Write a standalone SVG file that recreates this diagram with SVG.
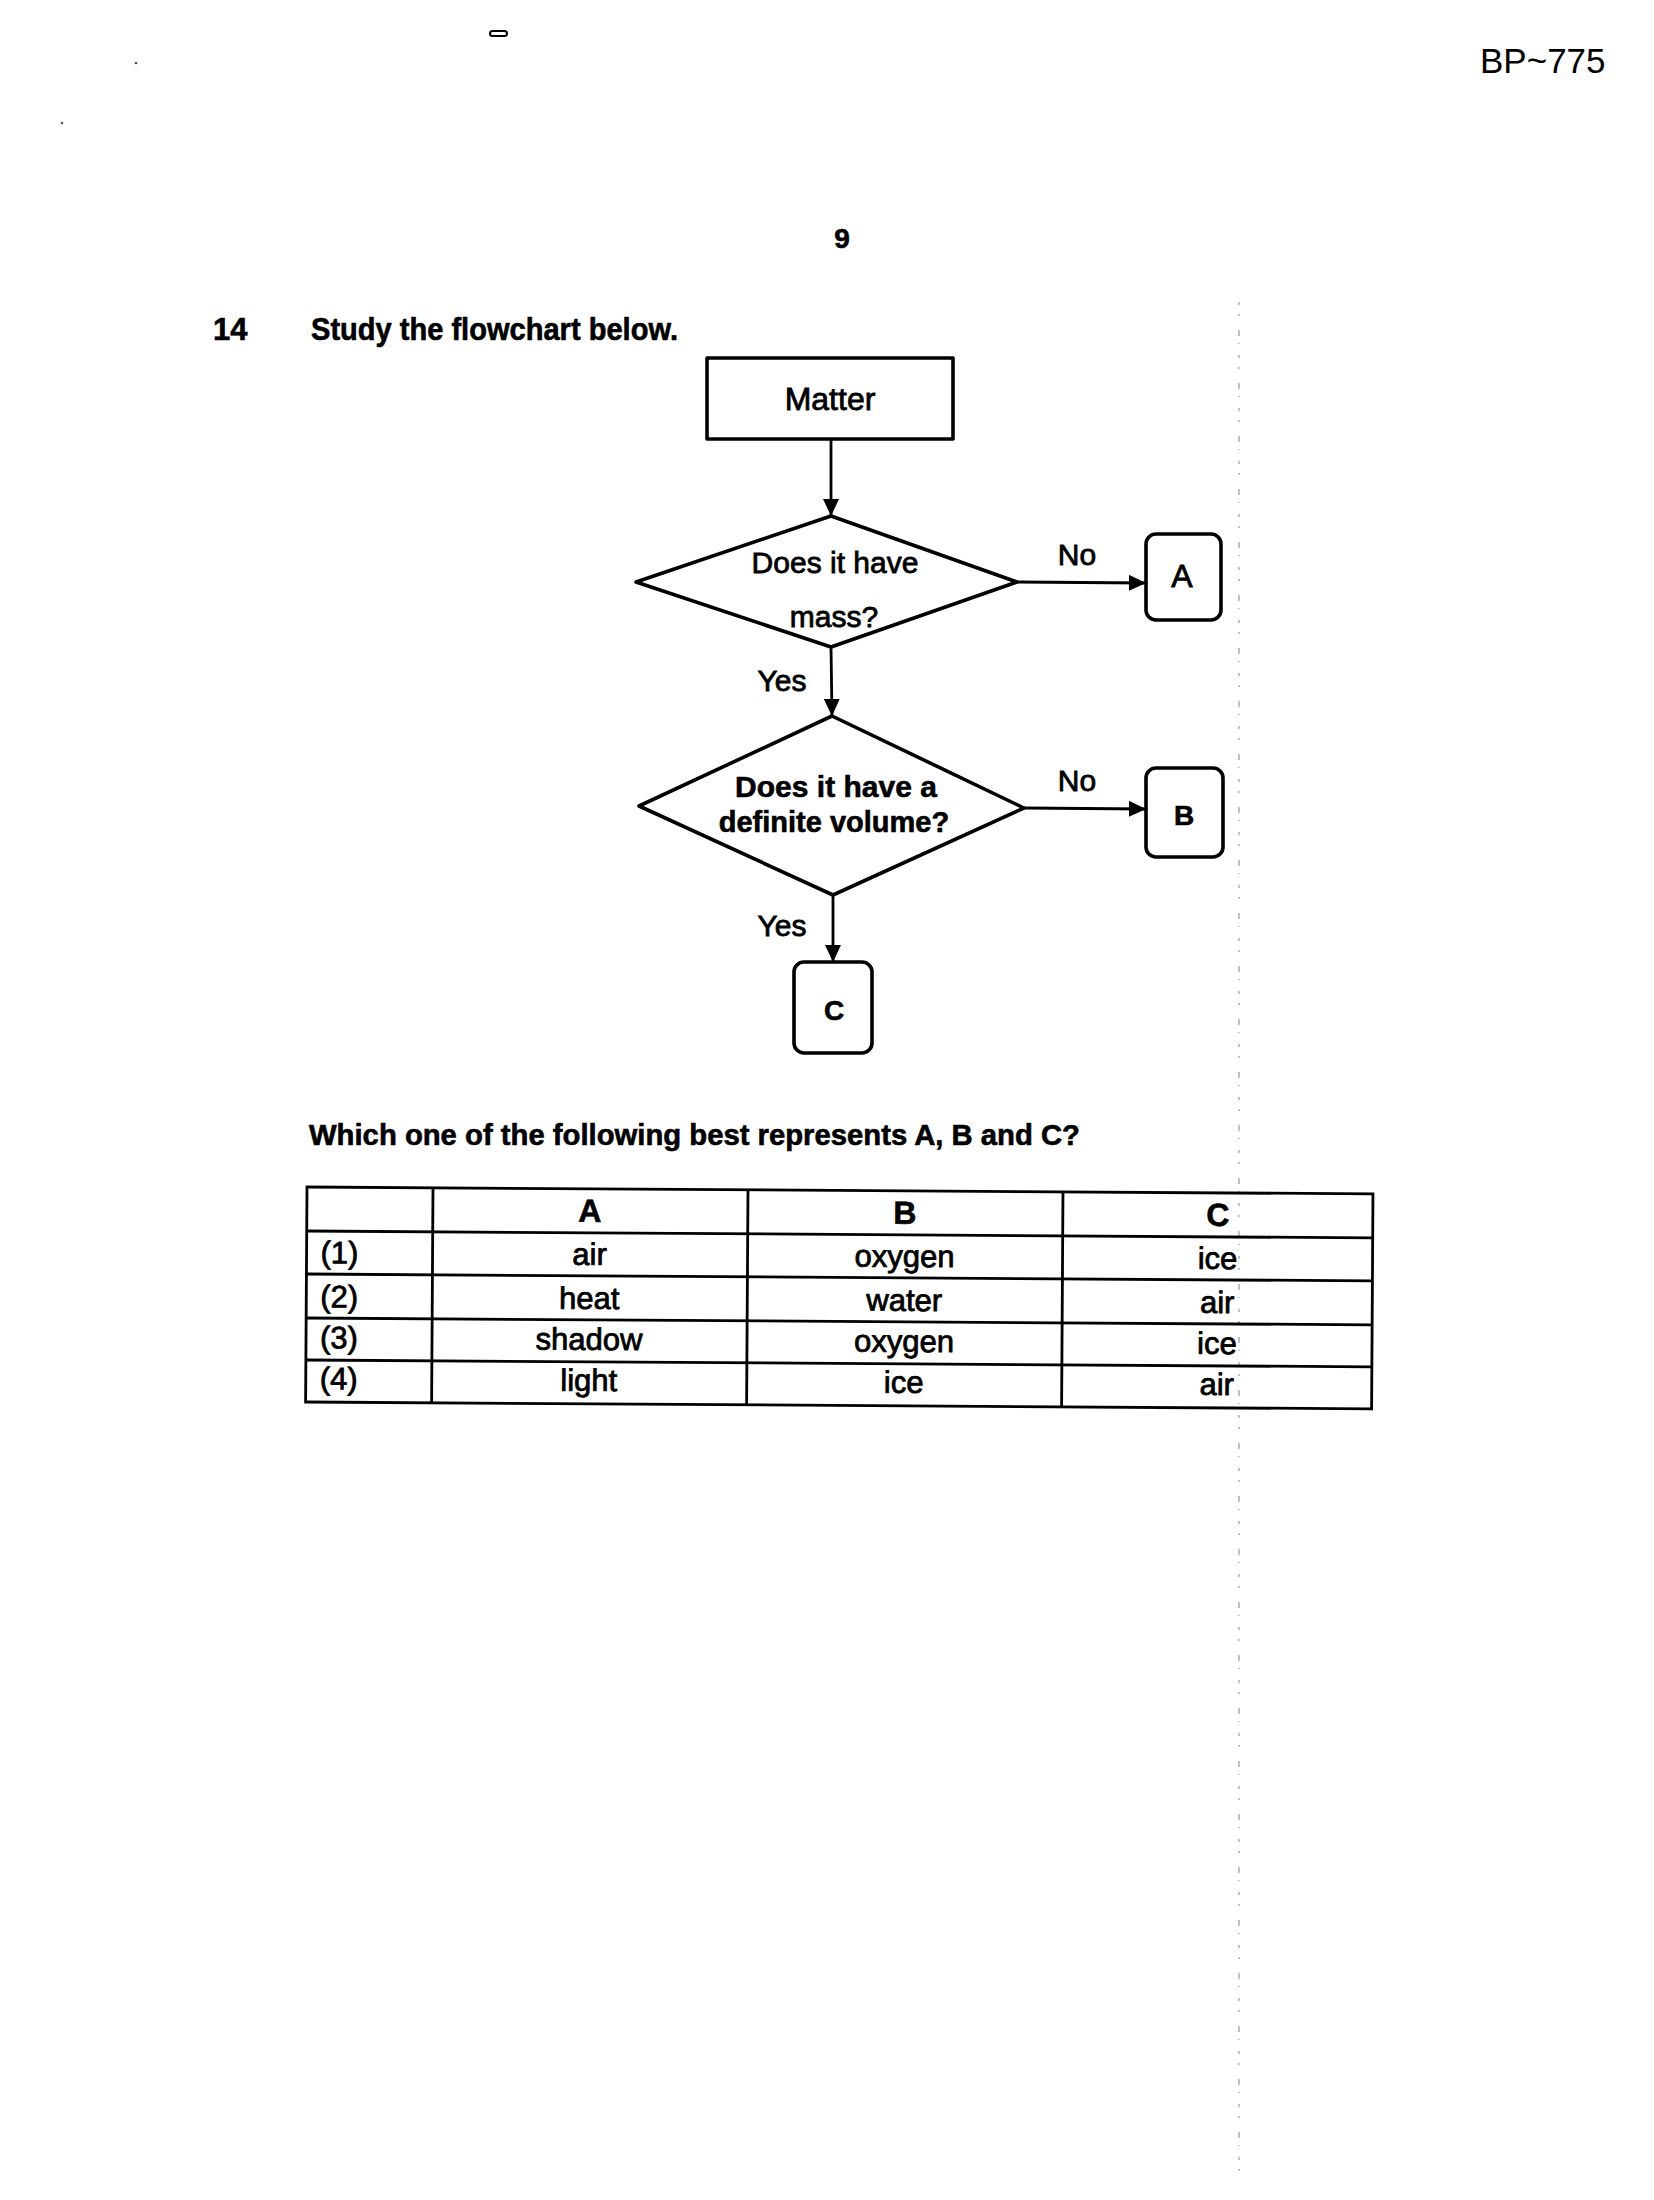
<svg xmlns="http://www.w3.org/2000/svg" width="1654" height="2200" viewBox="0 0 1654 2200">
  <style>
    text { font-family: "Liberation Sans", Arial, sans-serif; fill: #000; }
    .reg { font-weight: normal; }
    .bold { font-weight: bold; }
    .ink { stroke: #000; stroke-width: 0.8; }
    .inkb { stroke: #000; stroke-width: 0.6; }
    .shape { fill: #fff; stroke: #000; stroke-width: 3.6; stroke-linejoin: round; }
    .conn { fill: none; stroke: #000; stroke-width: 2.8; }
    .grid { fill: none; stroke: #000; stroke-width: 2.8; }
  </style>
  <defs>
    <marker id="arrow" markerUnits="userSpaceOnUse" markerWidth="18" markerHeight="16" refX="17" refY="8" orient="auto">
      <path d="M0,0 L17,8 L0,16 Z" fill="#000"/>
    </marker>
  </defs>
  <rect x="0" y="0" width="1654" height="2200" fill="#fff"/>

  <!-- scan artefacts -->
  <g id="artefacts">
    <rect x="490" y="31" width="17" height="5" rx="2.5" fill="none" stroke="#000" stroke-width="2"/>
    <line x1="1239" y1="302" x2="1239" y2="2185" stroke="#999" stroke-width="1.2" stroke-dasharray="3 9 2 14 6 7 1 11"/>
    <circle cx="136" cy="63" r="1.3" fill="#555"/>
    <circle cx="62" cy="123" r="1.3" fill="#555"/>
  </g>

  <!-- page header -->
  <text id="code" x="1480" y="73" class="reg" font-size="35">BP~775</text>
  <text id="page" x="842" y="248" class="bold inkb" font-size="28" text-anchor="middle">9</text>
  <text id="qnum" x="213" y="340" class="bold inkb" font-size="31">14</text>
  <text id="qtext" x="311" y="340" class="bold inkb" font-size="31" textLength="367" lengthAdjust="spacingAndGlyphs">Study the flowchart below.</text>

  <!-- connectors -->
  <g id="connectors">
    <line class="conn" x1="831" y1="439" x2="831" y2="516" marker-end="url(#arrow)"/>
    <line class="conn" x1="1017" y1="582" x2="1146" y2="583" marker-end="url(#arrow)"/>
    <line class="conn" x1="831" y1="647" x2="832" y2="716" marker-end="url(#arrow)"/>
    <line class="conn" x1="1024" y1="808" x2="1146" y2="809" marker-end="url(#arrow)"/>
    <line class="conn" x1="833" y1="895" x2="833" y2="962" marker-end="url(#arrow)"/>
    <text x="1077" y="565" class="reg ink" font-size="30" text-anchor="middle">No</text>
    <text x="782" y="691" class="reg ink" font-size="30" text-anchor="middle">Yes</text>
    <text x="1077" y="791" class="reg ink" font-size="30" text-anchor="middle">No</text>
    <text x="782" y="936" class="reg ink" font-size="30" text-anchor="middle">Yes</text>
  </g>

  <!-- nodes -->
  <g id="node-matter">
    <rect class="shape" x="707" y="358" width="246" height="81"/>
    <text x="830" y="410" class="reg ink" font-size="32" text-anchor="middle">Matter</text>
  </g>
  <g id="node-mass">
    <polygon class="shape" points="831,516 1017,582 831,647 636,582"/>
    <text x="835" y="573" class="reg ink" font-size="30" text-anchor="middle">Does it have</text>
    <text x="834" y="627" class="reg ink" font-size="30" text-anchor="middle">mass?</text>
  </g>
  <g id="node-volume">
    <polygon class="shape" points="832,716 1024,808 833,895 639,806"/>
    <text x="836" y="797" class="bold inkb" font-size="30" text-anchor="middle">Does it have a</text>
    <text x="834" y="832" class="bold inkb" font-size="29" text-anchor="middle">definite volume?</text>
  </g>
  <g id="node-A">
    <rect class="shape" x="1146" y="534" width="75" height="86" rx="10"/>
    <text x="1182" y="587" class="reg ink" font-size="32" text-anchor="middle">A</text>
  </g>
  <g id="node-B">
    <rect class="shape" x="1146" y="768" width="77" height="89" rx="10"/>
    <text x="1184" y="825" class="bold inkb" font-size="28" text-anchor="middle">B</text>
  </g>
  <g id="node-C">
    <rect class="shape" x="794" y="962" width="78" height="91" rx="10"/>
    <text x="834" y="1020" class="bold inkb" font-size="28" text-anchor="middle">C</text>
  </g>

  <!-- question -->
  <text id="question" x="309" y="1145" class="bold inkb" font-size="29" textLength="771" lengthAdjust="spacingAndGlyphs">Which one of the following best represents A, B and C?</text>

  <!-- table -->
  <g id="table" transform="rotate(0.37 307 1187)">
    <rect class="grid" x="307" y="1187" width="1066" height="215"/>
    <line class="grid" x1="307" y1="1231" x2="1373" y2="1231"/>
    <line class="grid" x1="307" y1="1274" x2="1373" y2="1274"/>
    <line class="grid" x1="307" y1="1318" x2="1373" y2="1318"/>
    <line class="grid" x1="307" y1="1360" x2="1373" y2="1360"/>
    <line class="grid" x1="433" y1="1187" x2="433" y2="1402"/>
    <line class="grid" x1="748" y1="1187" x2="748" y2="1402"/>
    <line class="grid" x1="1063" y1="1187" x2="1063" y2="1402"/>

    <text x="590" y="1220" class="bold inkb" font-size="32" text-anchor="middle">A</text>
    <text x="905" y="1220" class="bold inkb" font-size="32" text-anchor="middle">B</text>
    <text x="1218" y="1220" class="bold inkb" font-size="32" text-anchor="middle">C</text>

    <g class="ink" font-size="31">
      <text x="321" y="1263">(1)</text>
      <text x="321" y="1307">(2)</text>
      <text x="321" y="1348">(3)</text>
      <text x="321" y="1389">(4)</text>

      <text x="590" y="1263" text-anchor="middle">air</text>
      <text x="590" y="1307" text-anchor="middle">heat</text>
      <text x="590" y="1348" text-anchor="middle">shadow</text>
      <text x="590" y="1389" text-anchor="middle">light</text>

      <text x="905" y="1263" text-anchor="middle">oxygen</text>
      <text x="905" y="1307" text-anchor="middle">water</text>
      <text x="905" y="1348" text-anchor="middle">oxygen</text>
      <text x="905" y="1389" text-anchor="middle">ice</text>

      <text x="1218" y="1263" text-anchor="middle">ice</text>
      <text x="1218" y="1307" text-anchor="middle">air</text>
      <text x="1218" y="1348" text-anchor="middle">ice</text>
      <text x="1218" y="1389" text-anchor="middle">air</text>
    </g>
  </g>
</svg>
